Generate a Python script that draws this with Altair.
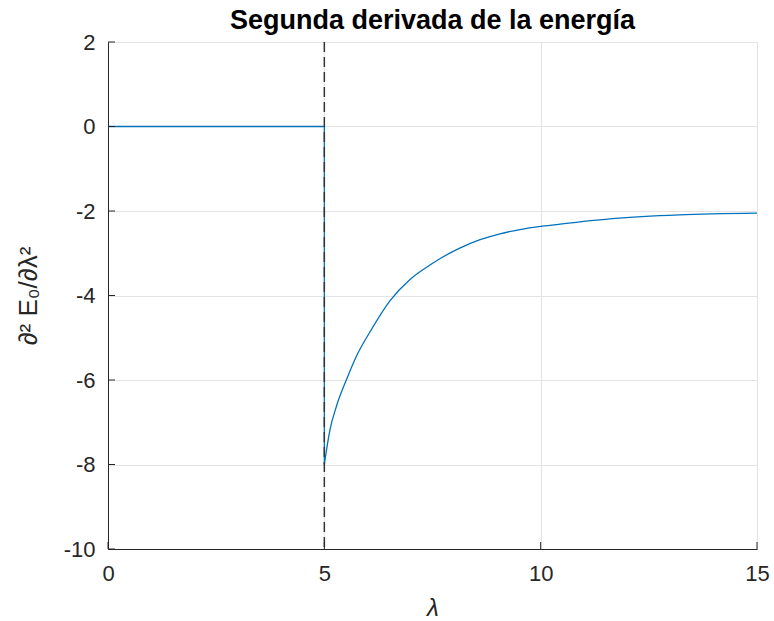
import altair as alt
import pandas as pd

# Second derivative of the ground-state energy vs. lambda
# flat branch and the jump at the transition
lam_step = [0, 5, 5]
d2e_step = [0, 0, -8]
# recovering branch after the transition
lam_curve = [5, 5.13, 5.28, 5.52, 5.75, 6.05, 6.52, 6.98, 7.44, 7.67, 8.13, 8.6,
             9.06, 9.52, 10.04, 10.45, 11.66, 13.2, 15]
d2e_curve = [-8, -7.18, -6.62, -5.97, -5.42, -4.87, -4.12, -3.62, -3.28, -3.13,
             -2.88, -2.68, -2.54, -2.44, -2.36, -2.31, -2.18, -2.09, -2.05]
transition = [5]
x_ticks = [0, 5, 10, 15]
y_ticks = [-10, -8, -6, -4, -2, 0, 2]

W, H = 649, 507
FONT = "Liberation Sans"
INK = "#262626"
BLUE = "#0072BD"

step = pd.DataFrame({"lam": lam_step, "d2e": d2e_step, "i": range(len(lam_step))})
curve = pd.DataFrame({"lam": lam_curve, "d2e": d2e_curve})
xs = alt.Scale(domain=[0, 15], nice=False, zero=False)
ys = alt.Scale(domain=[-10, 2], nice=False, zero=False)

x_axis = alt.Axis(values=x_ticks, grid=True, gridColor="#e3e3e3", ticks=False,
                  domainColor=INK, labelColor=INK, labelFont=FONT, labelFontSize=22,
                  labelPadding=14, labelFlush=False, labelExpr="'' + datum.value",
                  title="λ", titleFont=FONT, titleFontSize=24, titleFontStyle="italic",
                  titleFontWeight="normal", titleColor=INK, titlePadding=12)
y_axis = alt.Axis(values=y_ticks, grid=True, gridColor="#e3e3e3", ticks=False,
                  domainColor=INK, labelColor=INK, labelFont=FONT, labelFontSize=22,
                  labelPadding=13, labelFlush=False, labelExpr="'' + datum.value",
                  title="∂² E₀/∂λ²", titleFont=FONT, titleFontSize=26,
                  titleFontWeight="normal", titleColor=INK, titlePadding=22)

step_line = alt.Chart(step).mark_line(color=BLUE, strokeWidth=1.3).encode(
    x=alt.X("lam:Q", scale=xs, axis=x_axis),
    y=alt.Y("d2e:Q", scale=ys, axis=y_axis),
    order="i:O",
)
curve_line = alt.Chart(curve).mark_line(
    color=BLUE, strokeWidth=1.3, interpolate="monotone"
).encode(x=alt.X("lam:Q", scale=xs), y=alt.Y("d2e:Q", scale=ys))

vline = alt.Chart(pd.DataFrame({"lam": transition})).mark_rule(
    color="#333333", strokeWidth=1.5, strokeDash=[10, 5]
).encode(x=alt.X("lam:Q", scale=xs))

# inward tick marks on the left and bottom axes
xt = alt.Chart(pd.DataFrame({"v": x_ticks})).mark_rule(color=INK, strokeWidth=1).encode(
    x=alt.X("v:Q", scale=xs), y=alt.value(H), y2=alt.value(H - 7))
yt = alt.Chart(pd.DataFrame({"v": y_ticks})).mark_rule(color=INK, strokeWidth=1).encode(
    y=alt.Y("v:Q", scale=ys), x=alt.value(0), x2=alt.value(7))

chart = alt.layer(step_line, curve_line, vline, xt, yt).properties(
    width=W, height=H,
    title=alt.TitleParams("Segunda derivada de la energía", font=FONT, fontSize=27,
                          fontWeight="bold", color="#000000", anchor="middle", offset=-4),
    autosize=alt.AutoSizeParams(type="none"),
    padding={"left": 108, "top": 42, "right": 17, "bottom": 72},
).configure_view(stroke=None).configure(background="white")

chart.save("out.html", embed_options={"renderer": "svg", "actions": False})
